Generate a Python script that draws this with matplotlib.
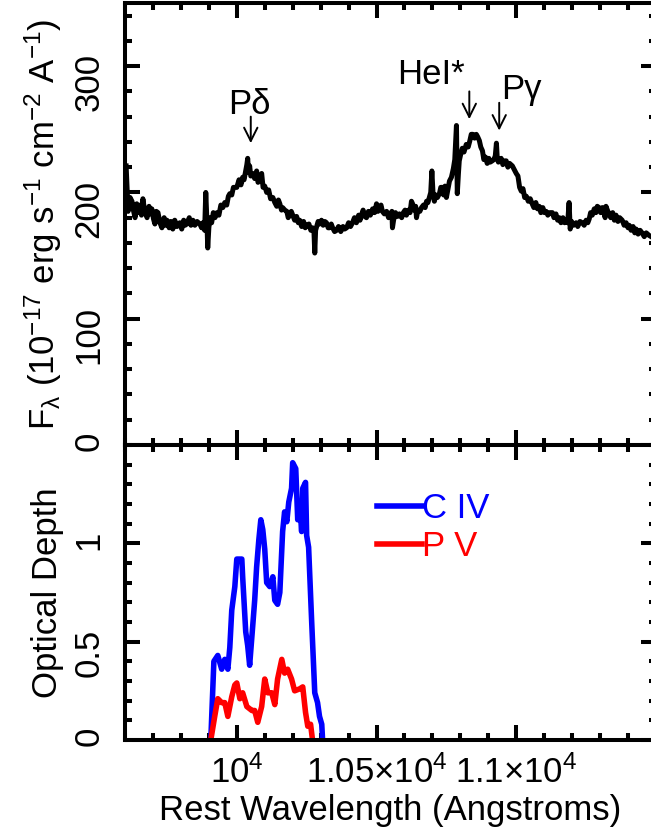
import matplotlib
matplotlib.use("Agg")
import matplotlib.pyplot as plt
from matplotlib.ticker import MultipleLocator

plt.rcParams['font.family'] = ['Liberation Sans', 'DejaVu Sans']
plt.rcParams['mathtext.fontset'] = 'custom'
plt.rcParams['mathtext.rm'] = 'Liberation Sans'
plt.rcParams['mathtext.it'] = 'Liberation Sans'

# spectrum (rest wavelength in Angstroms, flux in 1e-17 erg/s/cm2/A)
spec = [
    (9604, 221), (9608, 200), (9611, 185), (9618, 196), (9625, 193), (9630, 186),
    (9636, 180), (9642, 191), (9648, 184), (9654, 190), (9659, 182), (9664, 195),
    (9670, 186), (9679, 180), (9686, 189), (9691, 183), (9696, 187), (9702, 179),
    (9707, 175), (9712, 185), (9718, 184), (9725, 176), (9732, 172), (9740, 180),
    (9745, 174), (9750, 178), (9758, 172), (9764, 177), (9771, 171), (9778, 178),
    (9786, 173), (9796, 176), (9803, 171), (9810, 178), (9815, 174), (9821, 175),
    (9830, 180), (9836, 174), (9843, 178), (9850, 174), (9858, 177), (9868, 175),
    (9874, 172), (9879, 176), (9885, 170), (9889, 200), (9893, 178), (9896, 156),
    (9900, 172), (9904, 180), (9910, 176), (9916, 184), (9922, 180), (9929, 184),
    (9936, 182), (9943, 190), (9950, 188), (9957, 192), (9964, 190), (9970, 197),
    (9975, 199), (9982, 198), (9988, 204), (10000, 204), (10008, 210), (10015, 206),
    (10021, 212), (10026, 210), (10032, 217), (10036, 222), (10039, 227), (10042, 216),
    (10046, 221), (10050, 213), (10057, 215), (10064, 211), (10071, 217), (10076, 208),
    (10082, 211), (10089, 215), (10094, 204), (10100, 205), (10107, 200), (10114, 202),
    (10121, 195), (10129, 196), (10136, 192), (10143, 189), (10149, 194), (10154, 191),
    (10160, 186), (10164, 188), (10172, 186), (10179, 185), (10184, 180), (10189, 182),
    (10195, 185), (10200, 182), (10207, 178), (10214, 181), (10220, 176), (10225, 178),
    (10232, 173), (10239, 177), (10245, 172), (10250, 174), (10258, 175), (10265, 170),
    (10271, 172), (10276, 170), (10279, 152), (10282, 170), (10286, 173), (10291, 177),
    (10296, 175), (10303, 178), (10309, 174), (10315, 177), (10321, 176), (10327, 172),
    (10332, 172), (10338, 175), (10343, 172), (10350, 169), (10357, 170), (10364, 173),
    (10372, 169), (10380, 173), (10386, 171), (10393, 172), (10400, 176), (10407, 173),
    (10414, 176), (10421, 180), (10428, 176), (10436, 182), (10441, 178), (10446, 182),
    (10452, 186), (10458, 181), (10464, 180), (10471, 185), (10478, 182), (10486, 187),
    (10493, 184), (10500, 191), (10505, 185), (10511, 188), (10516, 190), (10521, 185),
    (10528, 183), (10536, 185), (10543, 180), (10550, 183), (10555, 185), (10557, 172),
    (10561, 178), (10568, 184), (10575, 181), (10582, 183), (10590, 180), (10596, 184),
    (10602, 186), (10607, 182), (10614, 186), (10620, 184), (10625, 193), (10629, 191),
    (10634, 186), (10640, 189), (10643, 180), (10648, 186), (10655, 185), (10661, 188),
    (10668, 190), (10674, 188), (10679, 193), (10684, 192), (10689, 196), (10694, 200),
    (10698, 217), (10702, 200), (10707, 193), (10712, 198), (10718, 196), (10725, 199),
    (10730, 204), (10736, 204), (10740, 198), (10745, 205), (10750, 196), (10755, 202),
    (10761, 209), (10768, 212), (10775, 219), (10780, 226), (10786, 253), (10789, 199),
    (10793, 215), (10796, 225), (10801, 230), (10807, 235), (10813, 232), (10821, 238),
    (10828, 236), (10834, 241), (10839, 246), (10845, 246), (10851, 243), (10857, 246),
    (10862, 244), (10868, 241), (10873, 236), (10879, 233), (10884, 226), (10890, 228),
    (10896, 223), (10902, 227), (10907, 224), (10914, 225), (10920, 226), (10925, 229),
    (10929, 239), (10932, 227), (10936, 224), (10939, 225), (10946, 227), (10952, 222),
    (10958, 225), (10964, 225), (10970, 220), (10976, 223), (10986, 221), (10993, 218),
    (11000, 215), (11006, 213), (11012, 204), (11018, 201), (11024, 203), (11030, 196),
    (11036, 197), (11043, 193), (11050, 195), (11057, 191), (11063, 188), (11070, 192),
    (11076, 187), (11082, 189), (11088, 184), (11095, 188), (11101, 184), (11107, 185),
    (11113, 182), (11120, 184), (11129, 184), (11135, 180), (11142, 183), (11148, 178),
    (11154, 180), (11160, 176), (11167, 180), (11173, 176), (11179, 178), (11184, 176),
    (11189, 192), (11193, 171), (11198, 177), (11205, 174), (11214, 176), (11220, 173),
    (11228, 177), (11236, 176), (11243, 174), (11250, 178), (11256, 176), (11261, 179),
    (11266, 184), (11272, 182), (11279, 187), (11285, 184), (11290, 189), (11296, 188),
    (11302, 184), (11308, 188), (11314, 184), (11318, 180), (11321, 189), (11326, 186),
    (11332, 183), (11338, 180), (11345, 184), (11351, 178), (11357, 182), (11364, 177),
    (11370, 180), (11379, 178), (11386, 174), (11393, 176), (11400, 172), (11404, 174),
    (11411, 170), (11418, 173), (11424, 168), (11429, 171), (11436, 167), (11443, 170),
    (11450, 168), (11458, 165), (11465, 168), (11475, 166), (11490, 164), (11500, 165),
]
wave = [w for w, f in spec]
flux = [f for w, f in spec]

# optical depth profiles
wave_civ = [9907, 9918, 9932, 9946, 9957, 9968, 9975, 9982, 9993, 10000, 10018, 10021,
            10032, 10039, 10046, 10057, 10064, 10071, 10079, 10086, 10093, 10100, 10107,
            10118, 10129, 10136, 10146, 10154, 10164, 10171, 10179, 10186, 10196, 10200,
            10211, 10218, 10225, 10232, 10236, 10246, 10250, 10257, 10268, 10279, 10289,
            10296, 10304, 10307]
tau_civ = [0.0, 0.40, 0.43, 0.36, 0.41, 0.36, 0.47, 0.66, 0.78, 0.92, 0.92, 0.83,
           0.55, 0.48, 0.38, 0.58, 0.71, 0.88, 1.02, 1.12, 1.07, 0.97, 0.80,
           0.78, 0.83, 0.71, 0.69, 0.75, 1.06, 1.16, 1.11, 1.21, 1.28, 1.41,
           1.38, 1.12, 1.21, 1.06, 1.28, 1.31, 1.04, 0.98, 0.60, 0.24, 0.19,
           0.12, 0.08, 0.0]
wave_pv = [9907, 9921, 9932, 9946, 9957, 9968, 9982, 9993, 10000, 10011, 10021, 10036,
           10054, 10064, 10075, 10089, 10100, 10111, 10125, 10136, 10146, 10161, 10171,
           10182, 10196, 10207, 10225, 10236, 10246, 10254, 10264, 10271]
tau_pv = [0.0, 0.12, 0.21, 0.19, 0.19, 0.12, 0.22, 0.28, 0.29, 0.21, 0.24, 0.17,
          0.15, 0.15, 0.09, 0.17, 0.31, 0.24, 0.24, 0.18, 0.31, 0.41, 0.34,
          0.36, 0.31, 0.25, 0.26, 0.27, 0.14, 0.07, 0.08, 0.0]

# line identifications: label, arrow x, arrow tail, arrow tip
lines = [("P\u03b4", 10050, 260, 239),
         ("HeI*", 10832, 280, 258),
         ("P\u03b3", 10939, 271, 249)]

W, H = 651, 832
fig = plt.figure(figsize=(W / 100, H / 100), dpi=100)
ax1 = fig.add_axes([125 / W, 1 - 445 / H, 531 / W, 442 / H])
ax2 = fig.add_axes([125 / W, 1 - 740 / H, 531 / W, 295 / H], sharex=ax1)

fs = 25
for ax in (ax1, ax2):
    for s in ax.spines.values():
        s.set_linewidth(2.9)
    ax.tick_params(which='both', direction='in', top=True, right=True, width=2.9,
                   labelsize=fs)
    ax.tick_params(which='major', length=11)
    ax.tick_params(which='minor', length=5)
    ax.tick_params(axis='y', labelrotation=90, pad=14)
    ax.xaxis.set_minor_locator(MultipleLocator(100))

ax1.plot(wave, flux, color='black', lw=3.6, solid_joinstyle='round')
ax1.set_xlim(9600, 11500)
ax1.set_ylim(0, 350)
ax1.set_yticks([0, 100, 200, 300])
ax1.yaxis.set_minor_locator(MultipleLocator(20))
ax1.tick_params(axis='x', labelbottom=False)
ax1.set_ylabel("F$_{\u03bb}$ (10$^{\u221217}$ erg s$^{\u22121}$ cm$^{\u22122}$ A$^{\u22121}$)",
               fontsize=fs, labelpad=6)

for name, x, tail, tip in lines:
    ax1.annotate('', xy=(x, tip), xytext=(x, tail),
                 arrowprops=dict(arrowstyle='->', lw=1.4, color='black',
                                 mutation_scale=24, shrinkA=0, shrinkB=0))
ax1.text(10046, 262, lines[0][0], ha='center', va='baseline', fontsize=fs)
ax1.text(10693, 286, lines[1][0], ha='center', va='baseline', fontsize=fs)
ax1.text(10946, 274, lines[2][0], ha='left', va='baseline', fontsize=fs)

ax2.plot(wave_civ, tau_civ, color='#0000ff', lw=4.0, label='C IV',
         solid_joinstyle='round')
ax2.plot(wave_pv, tau_pv, color='#ff0000', lw=4.0, label='P V',
         solid_joinstyle='round')
ax2.set_ylim(0, 1.5)
ax2.set_yticks([0, 0.5, 1])
ax2.set_yticklabels(['0', '0.5', '1'])
ax2.yaxis.set_minor_locator(MultipleLocator(0.1))
ax2.set_xticks([10000, 10500, 11000])
ax2.set_xticklabels(["10$^{4}$", "1.05\u00d710$^{4}$", "1.1\u00d710$^{4}$"])
ax2.tick_params(axis='x', pad=11)
ax2.set_xlim(9600, 11500)
ax2.set_ylabel("Optical Depth", fontsize=fs, labelpad=6)
ax2.set_xlabel("Rest Wavelength (Angstroms)", fontsize=fs, labelpad=3)
ax2.legend(loc='upper left', bbox_to_anchor=(0.475, 0.84), frameon=False,
           handlelength=1.3, handletextpad=0.0, labelcolor='linecolor',
           fontsize=fs, borderpad=0, borderaxespad=0, labelspacing=0.15)

fig.savefig("out.png", dpi=100)
